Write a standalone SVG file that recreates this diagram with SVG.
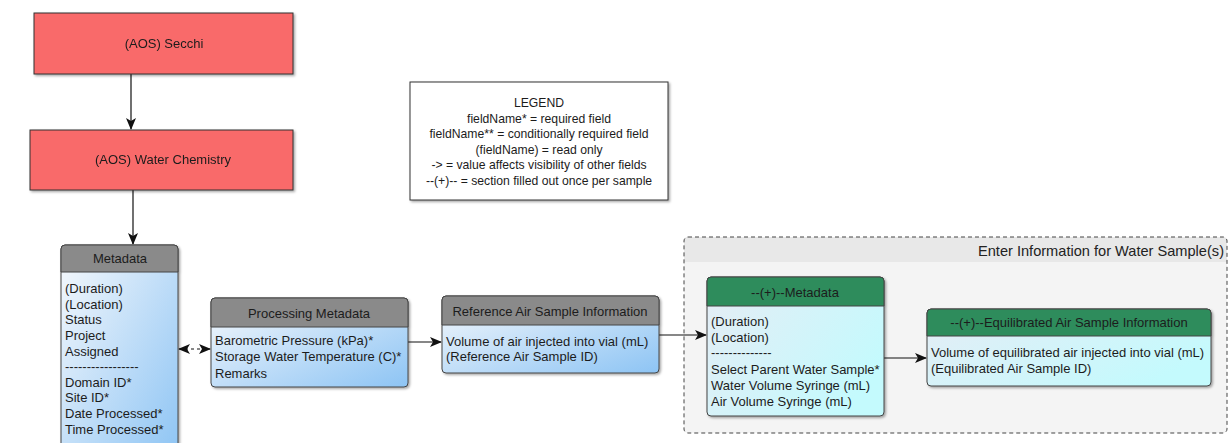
<svg xmlns="http://www.w3.org/2000/svg" width="1231" height="443" viewBox="0 0 1231 443">
<defs>
  <linearGradient id="blueBody" x1="0" y1="0" x2="1" y2="1">
    <stop offset="0" stop-color="#f7f9fc"/>
    <stop offset="1" stop-color="#8dc4f4"/>
  </linearGradient>
  <linearGradient id="cyanBody" x1="0" y1="0" x2="1" y2="0.6">
    <stop offset="0" stop-color="#e6ecf5"/>
    <stop offset="1" stop-color="#c4fafd"/>
  </linearGradient>
  <filter id="shadow" x="-10%" y="-10%" width="130%" height="130%">
    <feDropShadow dx="1.5" dy="1.5" stdDeviation="1.2" flood-color="#000" flood-opacity="0.35"/>
  </filter>
  <marker id="arrow" viewBox="0 0 12 10" refX="11" refY="5" markerWidth="12" markerHeight="10" markerUnits="userSpaceOnUse" orient="auto">
    <path d="M0,0 L12,5 L0,10 L3,5 Z" fill="#111"/>
  </marker>
  <marker id="arrowStart" viewBox="0 0 12 10" refX="1" refY="5" markerWidth="12" markerHeight="10" markerUnits="userSpaceOnUse" orient="auto">
    <path d="M12,0 L0,5 L12,10 L9,5 Z" fill="#111"/>
  </marker>
</defs>
<style>
  text { font-family: "Liberation Sans", Arial, sans-serif; font-size: 13px; fill: #1c1c1c; }
  .center { text-anchor: middle; }
  .legend text { font-size: 12.2px; }
  .red { fill: #f96a6a; stroke: #333; stroke-width: 1; }
  .hdrGray { fill: #8a8a8a; stroke: #444; stroke-width: 1; }
  .hdrGreen { fill: #2f8c5c; stroke: #444; stroke-width: 1; }
  .bodyBlue { fill: url(#blueBody); stroke: #444; stroke-width: 1; }
  .bodyCyan { fill: url(#cyanBody); stroke: #444; stroke-width: 1; }
  .conn { stroke: #111; stroke-width: 1.2; fill: none; }
  .dashed { stroke-dasharray: 3,3; }
  .title { font-size: 14.6px; text-anchor: end; fill: #222; }
</style>

<!-- Container -->
<g id="container-water-samples">
  <rect x="684" y="237" width="543" height="196" rx="4" fill="#f4f4f4"/>
  <path d="M684,262 V241 Q684,237 688,237 H1223 Q1227,237 1227,241 V262 Z" fill="#e8e8e8"/>
  <rect x="684" y="237" width="543" height="196" rx="4" fill="none" stroke="#444" stroke-width="1" stroke-dasharray="4,3"/>
  <text class="title" x="1224" y="256">Enter Information for Water Sample(s)</text>
</g>

<!-- Legend -->
<g id="legend" class="legend">
  <rect x="410" y="82" width="258" height="118" fill="#fff" stroke="#333" stroke-width="1" filter="url(#shadow)"/>
  <text class="center" x="539" y="107">LEGEND</text>
  <text class="center" x="539" y="123">fieldName* = required field</text>
  <text class="center" x="539" y="138">fieldName** = conditionally required field</text>
  <text class="center" x="539" y="154">(fieldName) = read only</text>
  <text class="center" x="539" y="169">-&gt; = value affects visibility of other fields</text>
  <text class="center" x="539" y="185">--(+)-- = section filled out once per sample</text>
</g>

<!-- Connectors -->
<g id="connectors">
  <line class="conn" x1="131" y1="74" x2="131" y2="129" marker-end="url(#arrow)"/>
  <line class="conn" x1="133" y1="190" x2="133" y2="244" marker-end="url(#arrow)"/>
  <line class="conn dashed" x1="179" y1="349" x2="210" y2="349" marker-start="url(#arrowStart)" marker-end="url(#arrow)"/>
  <line class="conn" x1="408" y1="342" x2="441" y2="342" marker-end="url(#arrow)"/>
  <line class="conn" x1="659" y1="335" x2="706" y2="335" marker-end="url(#arrow)"/>
  <line class="conn" x1="884" y1="358" x2="926" y2="358" marker-end="url(#arrow)"/>
</g>

<!-- Nodes -->
<g id="node-secchi" filter="url(#shadow)">
  <rect class="red" x="34" y="13" width="259" height="61"/>
  <text class="center" x="164" y="48">(AOS) Secchi</text>
</g>

<g id="node-water-chemistry" filter="url(#shadow)">
  <rect class="red" x="30" y="130" width="263" height="60"/>
  <text class="center" x="163" y="164">(AOS) Water Chemistry</text>
</g>

<g id="node-metadata">
  <g filter="url(#shadow)">
    <rect class="bodyBlue" x="61" y="245" width="117" height="215" rx="4"/>
    <path class="hdrGray" d="M61,272 V249 Q61,245 65,245 H174 Q178,245 178,249 V272 Z"/>
  </g>
  <text class="center" x="120" y="263">Metadata</text>
  <text x="65" y="293">(Duration)</text>
  <text x="65" y="309">(Location)</text>
  <text x="65" y="324">Status</text>
  <text x="65" y="340">Project</text>
  <text x="65" y="356">Assigned</text>
  <text x="65" y="371">-----------------</text>
  <text x="65" y="387">Domain ID*</text>
  <text x="65" y="402">Site ID*</text>
  <text x="65" y="418">Date Processed*</text>
  <text x="65" y="434">Time Processed*</text>
</g>

<g id="node-processing-metadata">
  <g filter="url(#shadow)">
    <rect class="bodyBlue" x="211" y="298" width="197" height="89" rx="4"/>
    <path class="hdrGray" d="M211,327 V302 Q211,298 215,298 H404 Q408,298 408,302 V327 Z"/>
  </g>
  <text class="center" x="309" y="318">Processing Metadata</text>
  <text x="215" y="345">Barometric Pressure (kPa)*</text>
  <text x="215" y="361">Storage Water Temperature (C)*</text>
  <text x="215" y="378">Remarks</text>
</g>

<g id="node-reference-air">
  <g filter="url(#shadow)">
    <rect class="bodyBlue" x="442" y="296" width="217" height="77" rx="4"/>
    <path class="hdrGray" d="M442,325 V300 Q442,296 446,296 H655 Q659,296 659,300 V325 Z"/>
  </g>
  <text class="center" x="550" y="316">Reference Air Sample Information</text>
  <text x="446" y="346">Volume of air injected into vial (mL)</text>
  <text x="446" y="361">(Reference Air Sample ID)</text>
</g>

<g id="node-ws-metadata">
  <g filter="url(#shadow)">
    <rect class="bodyCyan" x="707" y="277" width="177" height="139" rx="4"/>
    <path class="hdrGreen" d="M707,306 V281 Q707,277 711,277 H880 Q884,277 884,281 V306 Z"/>
  </g>
  <text class="center" x="795" y="297">--(+)--Metadata</text>
  <text x="711" y="326">(Duration)</text>
  <text x="711" y="342">(Location)</text>
  <text x="711" y="357">--------------</text>
  <text x="711" y="374">Select Parent Water Sample*</text>
  <text x="711" y="390">Water Volume Syringe (mL)</text>
  <text x="711" y="406">Air Volume Syringe (mL)</text>
</g>

<g id="node-equilibrated-air">
  <g filter="url(#shadow)">
    <rect class="bodyCyan" x="927" y="309" width="284" height="77" rx="4"/>
    <path class="hdrGreen" d="M927,336 V313 Q927,309 931,309 H1207 Q1211,309 1211,313 V336 Z"/>
  </g>
  <text class="center" x="1069" y="327">--(+)--Equilibrated Air Sample Information</text>
  <text x="931" y="357">Volume of equilibrated air injected into vial (mL)</text>
  <text x="931" y="373">(Equilibrated Air Sample ID)</text>
</g>
</svg>
